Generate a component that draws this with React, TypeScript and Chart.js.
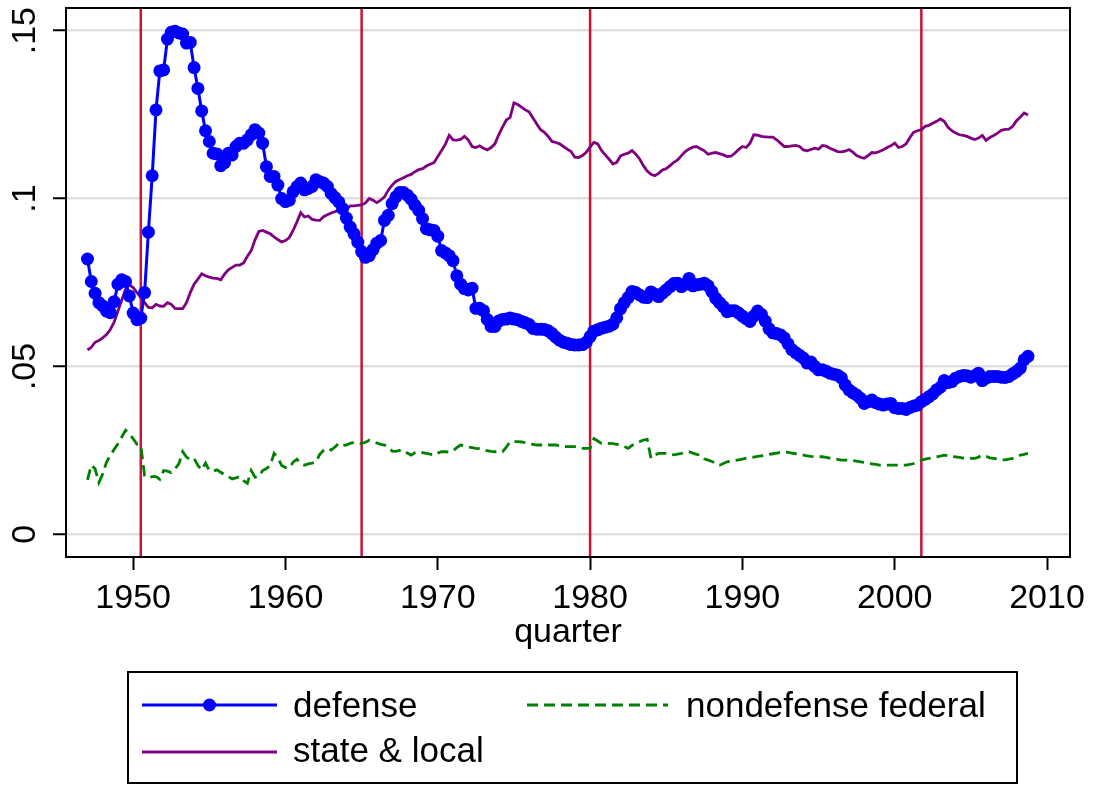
import { useEffect, useRef } from "react";
import { Chart, registerables } from "chart.js";

Chart.register(...registerables);

// Quarterly data, 1947q1 .. 2008q4 (one line per year, 4 quarters each)
const startYear = 1947;

const defense = [
  0.082, 0.0753, 0.0718, 0.069,
  0.068, 0.0665, 0.066, 0.0693,
  0.0745, 0.0758, 0.0753, 0.071,
  0.0659, 0.0639, 0.0644, 0.072,
  0.09, 0.1068, 0.1264, 0.138,
  0.1383, 0.1475, 0.1495, 0.1498,
  0.1493, 0.149, 0.1463, 0.1465,
  0.139, 0.1328, 0.1261, 0.1202,
  0.117, 0.1135, 0.1133, 0.1098,
  0.1107, 0.1135, 0.113, 0.1155,
  0.1165, 0.1165, 0.1175, 0.119,
  0.1205, 0.1195, 0.1165, 0.1095,
  0.1066, 0.1066, 0.104, 0.1,
  0.0991, 0.0995, 0.102, 0.1035,
  0.1046, 0.1026, 0.103, 0.1036,
  0.1056, 0.105, 0.1046, 0.1036,
  0.1015, 0.1003, 0.099, 0.097,
  0.0942, 0.0915, 0.0895, 0.087,
  0.0842, 0.0825, 0.083, 0.0848,
  0.0867, 0.0875, 0.0935, 0.095,
  0.0985, 0.1005, 0.1018, 0.1018,
  0.101, 0.0998, 0.098, 0.0965,
  0.094, 0.091, 0.0907, 0.0905,
  0.0888, 0.0845, 0.0838, 0.083,
  0.0815, 0.077, 0.0745, 0.0732,
  0.0728, 0.0733, 0.0673, 0.0673,
  0.0666, 0.064, 0.0619, 0.0619,
  0.0635, 0.064, 0.0641, 0.0644,
  0.0641, 0.0639, 0.0634, 0.063,
  0.0625, 0.0613, 0.0611, 0.0611,
  0.061, 0.0606, 0.0598, 0.0587,
  0.0578, 0.0572, 0.0569, 0.0565,
  0.0564, 0.0564, 0.0565, 0.0572,
  0.0589, 0.0605, 0.0609, 0.0614,
  0.0617, 0.062, 0.0626, 0.0645,
  0.0672, 0.069, 0.0705, 0.0723,
  0.072, 0.0713, 0.0706, 0.0705,
  0.0722, 0.0715, 0.0708, 0.0718,
  0.0728, 0.0738, 0.0747, 0.0748,
  0.0738, 0.0745, 0.0762, 0.074,
  0.0743, 0.0745, 0.0748, 0.074,
  0.0723, 0.0703, 0.069, 0.0678,
  0.0663, 0.0666, 0.0666, 0.0659,
  0.065, 0.0642, 0.0634, 0.065,
  0.0665, 0.0655, 0.0635, 0.0612,
  0.06, 0.0598, 0.0594, 0.0585,
  0.0567, 0.055, 0.0541, 0.0533,
  0.0525, 0.051, 0.0513, 0.05,
  0.049, 0.049, 0.0486, 0.048,
  0.0477, 0.0474, 0.0466, 0.0445,
  0.043, 0.0422, 0.0415, 0.0405,
  0.039, 0.0395, 0.04, 0.0392,
  0.0388, 0.0385, 0.0388, 0.039,
  0.0377, 0.0375, 0.0375, 0.0372,
  0.0378, 0.0382, 0.0385, 0.0395,
  0.0402, 0.041, 0.0418, 0.043,
  0.0438, 0.0458, 0.0452, 0.0455,
  0.0465, 0.047, 0.0473, 0.0472,
  0.0468, 0.0472, 0.048, 0.0458,
  0.0465, 0.047, 0.047, 0.047,
  0.0468, 0.0467, 0.047, 0.0478,
  0.0485, 0.0495, 0.052, 0.053,
];

const nondefenseFederal = [
  0.0162, 0.0206, 0.0195, 0.0154,
  0.018, 0.0215, 0.0235, 0.0253,
  0.027, 0.029, 0.031, 0.0298,
  0.0285, 0.0268, 0.0265, 0.0175,
  0.0168, 0.0172, 0.0172, 0.0164,
  0.019, 0.0188, 0.0184, 0.0195,
  0.021, 0.0246, 0.023, 0.0222,
  0.0226, 0.0205, 0.0192, 0.0212,
  0.019, 0.0188, 0.0192, 0.0185,
  0.0178, 0.0172, 0.0165, 0.0168,
  0.0172, 0.016, 0.0152, 0.019,
  0.017, 0.0172, 0.019, 0.0196,
  0.0205, 0.0241, 0.0228, 0.0205,
  0.0199, 0.0198, 0.0215, 0.0224,
  0.021, 0.0206, 0.021, 0.0212,
  0.0215, 0.0238, 0.025, 0.0256,
  0.0251, 0.026, 0.0271, 0.0265,
  0.0266, 0.0271, 0.0274, 0.0272,
  0.027, 0.0274, 0.028, 0.0276,
  0.0272, 0.0268, 0.0266, 0.026,
  0.0248, 0.0247, 0.025, 0.0251,
  0.0242, 0.0236, 0.0243, 0.0246,
  0.0243, 0.0241, 0.0239, 0.0236,
  0.0242, 0.0246, 0.0246, 0.0245,
  0.0249, 0.0258, 0.0266, 0.0264,
  0.026, 0.0258, 0.0256, 0.0255,
  0.0252, 0.0249, 0.0247, 0.0246,
  0.0246, 0.0246, 0.026, 0.0276,
  0.0276, 0.0276, 0.0275, 0.0273,
  0.027, 0.0268, 0.0266, 0.0266,
  0.0266, 0.0266, 0.0266, 0.0266,
  0.0264, 0.0262, 0.0261, 0.0261,
  0.0261, 0.0259, 0.0256, 0.0256,
  0.0256, 0.0285, 0.0278, 0.0271,
  0.0271, 0.0271, 0.027, 0.0268,
  0.0266, 0.0262, 0.0256, 0.0265,
  0.0271, 0.0276, 0.0281, 0.0283,
  0.0226, 0.0236, 0.0241, 0.0241,
  0.0241, 0.024, 0.0237, 0.0239,
  0.0241, 0.0244, 0.0246, 0.0242,
  0.0238, 0.0236, 0.0225, 0.0221,
  0.0217, 0.0212, 0.0206, 0.0211,
  0.0216, 0.0218, 0.022, 0.0222,
  0.0224, 0.0227, 0.0229, 0.023,
  0.0232, 0.0234, 0.0236, 0.0238,
  0.024, 0.0242, 0.0244, 0.0245,
  0.0244, 0.0242, 0.024, 0.0238,
  0.0236, 0.0234, 0.0232, 0.0231,
  0.0231, 0.0231, 0.0229, 0.0227,
  0.0225, 0.0223, 0.0221, 0.0221,
  0.0221, 0.022, 0.0218, 0.0216,
  0.0214, 0.0211, 0.021, 0.0208,
  0.0206, 0.0206, 0.0206, 0.0206,
  0.0206, 0.0206, 0.0206, 0.0206,
  0.0208, 0.0211, 0.0216, 0.0221,
  0.0224, 0.0226, 0.0228, 0.0231,
  0.0233, 0.0236, 0.0234, 0.0232,
  0.0231, 0.0229, 0.0227, 0.0226,
  0.0226, 0.0226, 0.023, 0.0236,
  0.0232, 0.0228, 0.0226, 0.0224,
  0.0222, 0.0222, 0.0224, 0.0226,
  0.023, 0.0236, 0.0238, 0.0241,
];

const stateLocal = [
  0.0549, 0.0557, 0.0572, 0.0577,
  0.0585, 0.0595, 0.061, 0.0632,
  0.0665, 0.0698, 0.073, 0.0743,
  0.0735, 0.072, 0.0706, 0.069,
  0.0676, 0.0675, 0.0685, 0.068,
  0.0679, 0.069, 0.0685, 0.0673,
  0.0672, 0.0672, 0.069, 0.072,
  0.0745, 0.076, 0.0776, 0.077,
  0.0766, 0.0763, 0.0762, 0.0758,
  0.0775, 0.0788, 0.0795, 0.0802,
  0.0802, 0.0808, 0.0828, 0.0845,
  0.0877, 0.0902, 0.0905, 0.09,
  0.0895, 0.0886, 0.0878, 0.0871,
  0.0875, 0.0884, 0.0905, 0.093,
  0.0958, 0.0945, 0.0948, 0.0938,
  0.0936, 0.0935, 0.0946, 0.0952,
  0.0957, 0.0961, 0.0965, 0.0969,
  0.0968, 0.0978, 0.0978, 0.098,
  0.0981, 0.0987, 0.1, 0.0995,
  0.0988, 0.0995, 0.1005, 0.1025,
  0.104, 0.1051, 0.1057, 0.1062,
  0.1068, 0.1072, 0.108, 0.1086,
  0.1089, 0.1097, 0.1102, 0.1107,
  0.1125, 0.1143, 0.1162, 0.1188,
  0.1175, 0.1174, 0.1176, 0.1185,
  0.1175, 0.1155, 0.1152, 0.1157,
  0.115, 0.1145, 0.1152, 0.1163,
  0.119, 0.1213, 0.1234, 0.1242,
  0.1285, 0.128, 0.1272, 0.1264,
  0.1258, 0.124, 0.1222, 0.1205,
  0.1197, 0.1185, 0.117, 0.1167,
  0.1163, 0.1155, 0.1147, 0.114,
  0.1123, 0.1122, 0.1128, 0.1138,
  0.1153, 0.1167, 0.1163, 0.1143,
  0.113, 0.1117, 0.1103, 0.1108,
  0.1127, 0.1132, 0.1135, 0.1143,
  0.1132, 0.1118, 0.1098, 0.1082,
  0.1072, 0.1068, 0.1075, 0.1085,
  0.1089, 0.1098, 0.1108, 0.1115,
  0.1128, 0.114, 0.1148, 0.1153,
  0.1155, 0.1148, 0.1142, 0.1132,
  0.1135, 0.1137, 0.1134, 0.113,
  0.1125, 0.1126, 0.1135, 0.1146,
  0.1155, 0.1152, 0.1165, 0.119,
  0.1189, 0.1185, 0.1184, 0.1183,
  0.1183, 0.1175, 0.1165, 0.1155,
  0.1155, 0.1157, 0.1158, 0.1155,
  0.1145, 0.1142, 0.1146, 0.115,
  0.1147, 0.1158, 0.1156, 0.115,
  0.1145, 0.114, 0.1139, 0.1141,
  0.1146, 0.1138, 0.1128, 0.1123,
  0.112, 0.1128, 0.1137, 0.1136,
  0.114, 0.1145, 0.1152, 0.1157,
  0.1165, 0.1152, 0.1155, 0.1163,
  0.1182, 0.1198, 0.1202, 0.1205,
  0.1215, 0.1218, 0.1224, 0.123,
  0.1237, 0.123, 0.1212, 0.1202,
  0.1195, 0.119, 0.1188, 0.1185,
  0.118, 0.1176, 0.118, 0.1188,
  0.1173, 0.1182, 0.1188, 0.1195,
  0.1203, 0.1206, 0.1207, 0.1215,
  0.1232, 0.1243, 0.1255, 0.1249,
];

const seriesLabels = ["defense", "nondefense federal", "state & local"];
const xTicks = [1950, 1960, 1970, 1980, 1990, 2000, 2010];
const yTicks = [0, 0.05, 0.1, 0.15];
const yTickLabels = ["0", ".05", ".1", ".15"];
const referenceLines = [1950.5, 1965, 1980, 2001.75];
const xTitle = "quarter";

const quarters = defense.map((_, i) => startYear + i / 4);
const toPoints = (vals: number[]) => vals.map((v, i) => ({ x: quarters[i], y: v }));

const FONT = '"Liberation Sans", Arial, Helvetica, sans-serif';
const BLUE = "#0000FF";
const GREEN = "#008000";
const PURPLE = "#800080";
const CRANBERRY = "#C8143C";

const stataPlugin = {
  id: "stataDecor",
  beforeDatasetsDraw(chart: any) {
    const { ctx, chartArea: a, scales } = chart;
    const x = scales.x;
    ctx.save();
    ctx.beginPath();
    ctx.rect(a.left, a.top, a.right - a.left, a.bottom - a.top);
    ctx.clip();
    ctx.strokeStyle = CRANBERRY;
    ctx.lineWidth = 2.5;
    referenceLines.forEach((v) => {
      const px = x.getPixelForValue(v);
      ctx.beginPath();
      ctx.moveTo(px, a.top);
      ctx.lineTo(px, a.bottom);
      ctx.stroke();
    });
    ctx.restore();
  },
  afterDraw(chart: any) {
    const { ctx, chartArea: a } = chart;
    ctx.save();
    // plot region frame
    ctx.strokeStyle = "#000";
    ctx.lineWidth = 2;
    ctx.strokeRect(a.left, a.top, a.right - a.left, a.bottom - a.top);

    // legend
    ctx.lineWidth = 2;
    ctx.strokeRect(128, 672, 889, 111);
    const items = [
      { ds: 0, x0: 142, x1: 277, y: 705, tx: 293, ty: 717 },
      { ds: 1, x0: 527, x1: 668, y: 705, tx: 686, ty: 717 },
      { ds: 2, x0: 142, x1: 277, y: 752, tx: 293, ty: 762 },
    ];
    items.forEach((it) => {
      const ds = chart.data.datasets[it.ds];
      ctx.save();
      ctx.strokeStyle = ds.borderColor;
      ctx.lineWidth = ds.borderWidth;
      ctx.setLineDash(ds.borderDash || []);
      ctx.beginPath();
      ctx.moveTo(it.x0, it.y);
      ctx.lineTo(it.x1, it.y);
      ctx.stroke();
      ctx.restore();
      if (ds.pointRadius > 0) {
        ctx.fillStyle = ds.pointBackgroundColor;
        ctx.beginPath();
        ctx.arc((it.x0 + it.x1) / 2, it.y, ds.pointRadius, 0, Math.PI * 2);
        ctx.fill();
      }
      ctx.fillStyle = "#000";
      ctx.font = `35px ${FONT}`;
      ctx.textAlign = "left";
      ctx.textBaseline = "alphabetic";
      ctx.fillText(ds.label, it.tx, it.ty);
    });
    ctx.restore();
  },
};

export default function App() {
  const ref = useRef<HTMLCanvasElement | null>(null);

  useEffect(() => {
    if (!ref.current) return;
    const chart = new Chart(ref.current, {
      type: "line",
      data: {
        datasets: [
          {
            label: seriesLabels[0],
            data: toPoints(defense),
            borderColor: BLUE,
            backgroundColor: BLUE,
            borderWidth: 3,
            pointRadius: 6.5,
            pointBackgroundColor: BLUE,
            pointBorderWidth: 0,
            pointHoverRadius: 6.5,
            tension: 0,
          },
          {
            label: seriesLabels[1],
            data: toPoints(nondefenseFederal),
            borderColor: GREEN,
            backgroundColor: GREEN,
            borderWidth: 2.8,
            borderDash: [11, 6],
            pointRadius: 0,
            tension: 0,
          },
          {
            label: seriesLabels[2],
            data: toPoints(stateLocal),
            borderColor: PURPLE,
            backgroundColor: PURPLE,
            borderWidth: 2.8,
            pointRadius: 0,
            tension: 0,
          },
        ],
      },
      options: {
        animation: false,
        responsive: false,
        events: [],
        layout: { padding: { left: 0, top: 8, right: 24, bottom: 132 } },
        plugins: {
          legend: { display: false },
          tooltip: { enabled: false },
        },
        scales: {
          x: {
            type: "linear",
            min: 1945.59,
            max: 2011.51,
            afterBuildTicks: (scale: any) => {
              scale.ticks = xTicks.map((v) => ({ value: v }));
            },
            afterFit: (scale: any) => {
              scale.height = 96;
              scale.paddingLeft = 0;
              scale.paddingRight = 0;
            },
            ticks: {
              autoSkip: false,
              maxRotation: 0,
              minRotation: 0,
              padding: 8,
              color: "#000",
              font: { family: FONT, size: 34 },
              callback: (v: any) => String(v),
            },
            grid: {
              display: true,
              drawOnChartArea: false,
              drawTicks: true,
              tickLength: 13,
              tickColor: "#000",
              tickWidth: 2,
            },
            border: { display: false },
            title: {
              display: true,
              text: xTitle,
              color: "#000",
              font: { family: FONT, size: 34 },
              padding: { top: 0, bottom: 0 },
            },
          },
          y: {
            type: "linear",
            min: -0.00675,
            max: 0.15675,
            afterBuildTicks: (scale: any) => {
              scale.ticks = yTicks.map((v) => ({ value: v }));
            },
            afterFit: (scale: any) => {
              scale.width = 66;
              scale.paddingTop = 0;
              scale.paddingBottom = 0;
            },
            ticks: {
              minRotation: 90,
              maxRotation: 90,
              crossAlign: "center",
              padding: 4,
              color: "#000",
              font: { family: FONT, size: 34 },
              callback: (_v: any, i: number) => yTickLabels[i],
            },
            grid: {
              display: true,
              color: "#dfdfdf",
              lineWidth: 2.5,
              drawTicks: true,
              tickLength: 13,
              tickColor: "#000",
              tickWidth: 2,
            },
            border: { display: false },
          },
        },
      },
      plugins: [stataPlugin],
    } as any);
    return () => chart.destroy();
  }, []);

  return (
    <div style={{ position: "absolute", left: 0, top: 0, width: 1094, height: 785, background: "#fff" }}>
      <canvas ref={ref} width={1094} height={785} style={{ display: "block" }} />
    </div>
  );
}
